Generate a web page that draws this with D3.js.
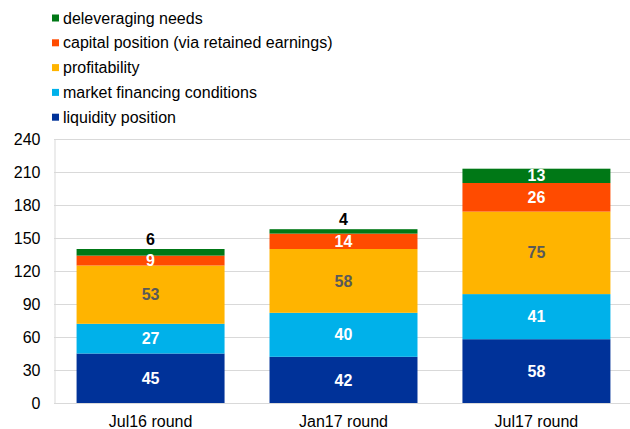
<!DOCTYPE html>
<html>
<head>
<script src="https://d3js.org/d3.v7.js"></script>
<style>
  body { margin: 0; background: #fff; }
  svg { font-family: "Liberation Sans", Arial, sans-serif; }
</style>
</head>
<body>
<div id="chart"></div>
<script>
const rounds = ['Jul16 round', 'Jan17 round', 'Jul17 round']
const seriesNames = ['liquidity position', 'market financing conditions', 'profitability', 'capital position (via retained earnings)', 'deleveraging needs']
const liquidity = [45, 42, 58]
const marketFinancing = [27, 40, 41]
const profitability = [53, 58, 75]
const capitalPosition = [9, 14, 26]
const deleveraging = [6, 4, 13]
const yTicks = [0, 30, 60, 90, 120, 150, 180, 210, 240]

const colours = ['#003299', '#00b1ea', '#ffb400', '#ff4b00', '#007816']
const labelColours = ['#fff', '#fff', '#595959', '#fff', '#fff']

const w = 630
const h = 429

const table = rounds.map((r, i) => ({
  round: r,
  s0: liquidity[i],
  s1: marketFinancing[i],
  s2: profitability[i],
  s3: capitalPosition[i],
  s4: deleveraging[i]
}))
const keys = ['s0', 's1', 's2', 's3', 's4']
const stacked = d3.stack().keys(keys)(table)

const x = d3.scaleBand()
  .domain(rounds)
  .range([54, 633])
  .paddingInner(0.233)
  .paddingOuter(0.117)

const y = d3.scaleLinear()
  .domain([0, 240])
  .range([403, 139])

const svg = d3.select('#chart')
  .append('svg')
  .attr('width', w)
  .attr('height', h)

// gridlines
svg.append('g')
  .selectAll('line')
  .data(yTicks.slice(1))
  .enter()
  .append('line')
  .attr('x1', 54)
  .attr('x2', 630)
  .attr('y1', d => y(d) + 0.5)
  .attr('y2', d => y(d) + 0.5)
  .attr('stroke', '#d9d9d9')

// y axis
const yAxis = svg.append('g')
  .attr('transform', 'translate(54.5,0)')
  .call(d3.axisLeft(y).tickValues(yTicks).tickSize(0).tickPadding(14))
yAxis.select('.domain').attr('stroke', '#d9d9d9')
yAxis.selectAll('text')
  .attr('font-size', 16)
  .attr('fill', '#000')
  .attr('font-family', '"Liberation Sans", Arial, sans-serif')

// bars
const layers = svg.append('g')
  .selectAll('g')
  .data(stacked)
  .enter()
  .append('g')
  .attr('fill', (d, i) => colours[i])

layers.selectAll('rect')
  .data(d => d)
  .enter()
  .append('rect')
  .attr('x', d => x(d.data.round))
  .attr('y', d => y(d[1]))
  .attr('width', x.bandwidth())
  .attr('height', d => y(d[0]) - y(d[1]))

// x axis
const xAxis = svg.append('g')
  .attr('transform', 'translate(0,403.5)')
  .call(d3.axisBottom(x).tickSize(0).tickPadding(12))
xAxis.select('.domain').attr('stroke', '#d9d9d9').attr('d', 'M54,0H630')
xAxis.selectAll('text')
  .attr('font-size', 16)
  .attr('fill', '#000')
  .attr('font-family', '"Liberation Sans", Arial, sans-serif')

// data labels
stacked.forEach((layer, i) => {
  svg.append('g')
    .selectAll('text')
    .data(layer)
    .enter()
    .append('text')
    .attr('x', d => x(d.data.round) + x.bandwidth() / 2)
    .attr('y', d => {
      const v = d[1] - d[0]
      if (i === 4 && v < 8) return y(d[1]) - 10
      return (y(d[0]) + y(d[1])) / 2
    })
    .attr('dy', '0.35em')
    .attr('text-anchor', 'middle')
    .attr('font-size', 16)
    .attr('font-weight', 'bold')
    .attr('fill', d => (i === 4 && d[1] - d[0] < 8) ? '#000' : labelColours[i])
    .text(d => d[1] - d[0])
})

// legend
const legend = svg.append('g')
  .selectAll('g')
  .data(seriesNames.map((n, i) => ({ name: n, colour: colours[i] })).reverse())
  .enter()
  .append('g')
  .attr('transform', (d, i) => 'translate(52,' + (18 + i * 24.8) + ')')

legend.append('rect')
  .attr('x', 0)
  .attr('y', -3.5)
  .attr('width', 7)
  .attr('height', 7)
  .attr('fill', d => d.colour)

legend.append('text')
  .attr('x', 11)
  .attr('dy', '0.35em')
  .attr('font-size', 16)
  .attr('fill', '#000')
  .text(d => d.name)
</script>
</body>
</html>
